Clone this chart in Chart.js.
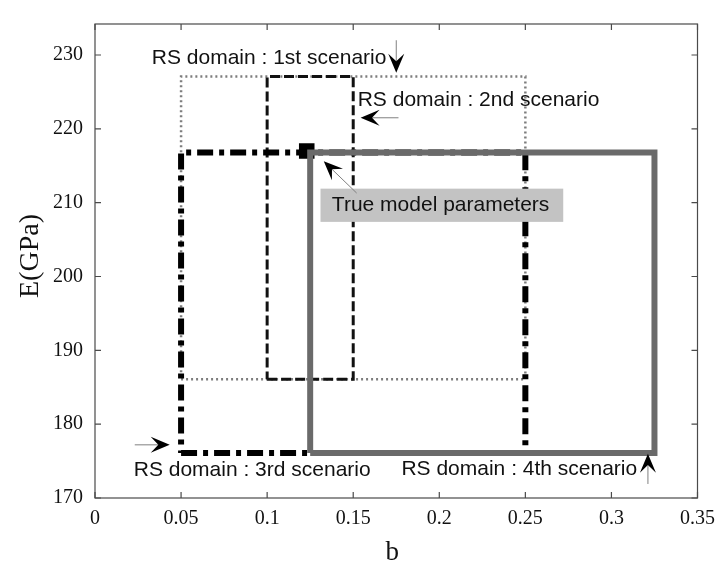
<!DOCTYPE html>
<html>
<head>
<meta charset="utf-8">
<script src="https://cdn.jsdelivr.net/npm/chart.js@4.4.1/dist/chart.umd.min.js"></script>
<style>
  html, body { margin: 0; padding: 0; background: #fff; }
  #wrap { width: 724px; height: 563px; }
</style>
</head>
<body>
<div id="wrap"><canvas id="rsChart" width="724" height="563"></canvas></div>
<script>
// RS domain bounds for each scenario (b range, E range in GPa)
const scenarioNames = ['1st', '2nd', '3rd', '4th'];
const bLow  = [0.05, 0.10, 0.05, 0.125];
const bHigh = [0.25, 0.15, 0.25, 0.325];
const eLow  = [186.1, 186.1, 176.1, 176.1];
const eHigh = [227.1, 227.1, 216.8, 216.8];

// true model parameters
const trueB = [0.123];
const trueE = [217.0];

const xTicks = [0, 0.05, 0.1, 0.15, 0.2, 0.25, 0.3, 0.35];
const yTicks = [170, 180, 190, 200, 210, 220, 230];

const serif = "'Liberation Serif', 'Times New Roman', serif";
const sans = "'Liberation Sans', Arial, sans-serif";

const rectPoints = (i) => [
    { x: bLow[i], y: eLow[i] },
    { x: bHigh[i], y: eLow[i] },
    { x: bHigh[i], y: eHigh[i] },
    { x: bLow[i], y: eHigh[i] },
    { x: bLow[i], y: eLow[i] }
];

// line style per scenario: dotted grey, dashed black, dash-dot black, solid grey
const lineStyles = [
    { color: '#7d7d7d', width: 2.5, dash: [2, 3], order: 4 },
    { color: '#111111', width: 3, dash: [10, 4], order: 3 },
    { color: '#000000', width: 6, dash: [16, 6, 5, 6], order: 2 },
    { color: '#6a6a6a', width: 6, dash: [], order: 1 }
];

const datasets = scenarioNames.map((name, i) => ({
    label: 'RS domain : ' + name + ' scenario',
    data: rectPoints(i),
    showLine: true,
    borderColor: lineStyles[i].color,
    borderWidth: lineStyles[i].width,
    borderDash: lineStyles[i].dash,
    borderCapStyle: 'butt',
    borderJoinStyle: 'miter',
    pointRadius: 0,
    fill: false,
    tension: 0,
    order: lineStyles[i].order
}));

datasets.push({
    label: 'True model parameters',
    data: trueB.map((b, i) => ({ x: b, y: trueE[i] })),
    showLine: false,
    pointStyle: 'rect',
    pointRadius: 11,
    backgroundColor: '#000',
    borderColor: '#000',
    borderWidth: 0,
    order: 5
});

// box with inward ticks on all four sides
const frameTicks = {
    id: 'frameTicks',
    beforeDatasetsDraw(chart) {
        const { ctx, chartArea: a, scales: { x, y } } = chart;
        ctx.save();
        ctx.strokeStyle = '#4a4a4a';
        ctx.lineWidth = 1.2;
        ctx.strokeRect(a.left, a.top, a.right - a.left, a.bottom - a.top);
        const tl = 6;
        ctx.beginPath();
        xTicks.forEach(v => {
            const px = x.getPixelForValue(v);
            ctx.moveTo(px, a.bottom); ctx.lineTo(px, a.bottom - tl);
            ctx.moveTo(px, a.top); ctx.lineTo(px, a.top + tl);
        });
        yTicks.forEach(v => {
            const py = y.getPixelForValue(v);
            ctx.moveTo(a.left, py); ctx.lineTo(a.left + tl, py);
            ctx.moveTo(a.right, py); ctx.lineTo(a.right - tl, py);
        });
        ctx.stroke();

        // axis titles
        ctx.fillStyle = '#111';
        ctx.font = '27px ' + serif;
        ctx.textAlign = 'center';
        ctx.textBaseline = 'alphabetic';
        ctx.fillText('b', (a.left + a.right) / 2 - 4, 560);
        ctx.translate(38, (a.top + a.bottom) / 2 - 5);
        ctx.rotate(-Math.PI / 2);
        ctx.font = '28px ' + serif;
        ctx.fillText('E(GPa)', 0, 0);
        ctx.restore();
    }
};

function drawArrow(ctx, x0, y0, x1, y1) {
    const dx = x1 - x0, dy = y1 - y0;
    const len = Math.hypot(dx, dy);
    const ux = dx / len, uy = dy / len;
    const hl = 19, hw = 8;
    const bx = x1 - ux * hl, by = y1 - uy * hl;
    ctx.strokeStyle = '#808080';
    ctx.lineWidth = 1;
    ctx.beginPath();
    ctx.moveTo(x0, y0);
    ctx.lineTo(x1 - ux * hl * 0.6, y1 - uy * hl * 0.6);
    ctx.stroke();
    ctx.fillStyle = '#000';
    ctx.beginPath();
    ctx.moveTo(x1, y1);
    ctx.lineTo(bx - uy * hw, by + ux * hw);
    ctx.lineTo(x1 - ux * hl * 0.6, y1 - uy * hl * 0.6);
    ctx.lineTo(bx + uy * hw, by - ux * hw);
    ctx.closePath();
    ctx.fill();
}

// text labels and arrows, placed in data coordinates
const annotations = {
    id: 'annotations',
    afterDatasetsDraw(chart) {
        const { ctx, scales: { x, y } } = chart;
        const px = v => x.getPixelForValue(v);
        const py = v => y.getPixelForValue(v);
        ctx.save();

        // grey label box
        ctx.fillStyle = '#c3c3c3';
        ctx.fillRect(px(0.131), py(211.9), px(0.272) - px(0.131), py(207.4) - py(211.9));

        ctx.fillStyle = '#111';
        ctx.font = '21px ' + sans;
        ctx.textAlign = 'left';
        ctx.textBaseline = 'middle';
        ctx.fillText('RS domain : 1st scenario', px(0.033), py(229.6));
        ctx.fillText('RS domain : 2nd scenario', px(0.1526), py(223.9));
        ctx.fillText('True model parameters', px(0.1376), py(209.6));
        ctx.fillText('RS domain : 3rd scenario', px(0.0225), py(173.8));
        ctx.fillText('RS domain : 4th scenario', px(0.178), py(173.9));

        drawArrow(ctx, px(0.175), py(232.0), px(0.175), py(227.6));
        drawArrow(ctx, px(0.1763), py(221.5), px(0.1543), py(221.5));
        drawArrow(ctx, px(0.152), py(211.3), px(0.1329), py(215.6));
        drawArrow(ctx, px(0.0231), py(177.2), px(0.0434), py(177.2));
        drawArrow(ctx, px(0.3212), py(171.9), px(0.3212), py(176.0));
        ctx.restore();
    }
};

new Chart(document.getElementById('rsChart'), {
    type: 'scatter',
    data: { datasets },
    options: {
        responsive: false,
        animation: false,
        layout: { padding: { left: 0, right: 24, top: 8, bottom: 0 } },
        plugins: {
            legend: { display: false },
            tooltip: { enabled: false }
        },
        scales: {
            x: {
                type: 'linear',
                min: 0,
                max: 0.35,
                afterBuildTicks: (axis) => { axis.ticks = xTicks.map(v => ({ value: v })); },
                afterFit: (scale) => { scale.height = 65; },
                grid: { display: false, drawTicks: false },
                border: { display: false },
                ticks: {
                    color: '#111',
                    padding: 9,
                    maxRotation: 0,
                    font: { family: serif, size: 20 },
                    callback: (v) => String(+v.toFixed(2))
                }
            },
            y: {
                type: 'linear',
                min: 170,
                max: 234.2,
                afterBuildTicks: (axis) => { axis.ticks = yTicks.map(v => ({ value: v })); },
                afterFit: (scale) => { scale.width = 95; },
                grid: { display: false, drawTicks: false },
                border: { display: false },
                ticks: {
                    color: '#111',
                    padding: 12,
                    font: { family: serif, size: 20 },
                    callback: (v) => String(v)
                }
            }
        }
    },
    plugins: [frameTicks, annotations]
});
</script>
</body>
</html>
